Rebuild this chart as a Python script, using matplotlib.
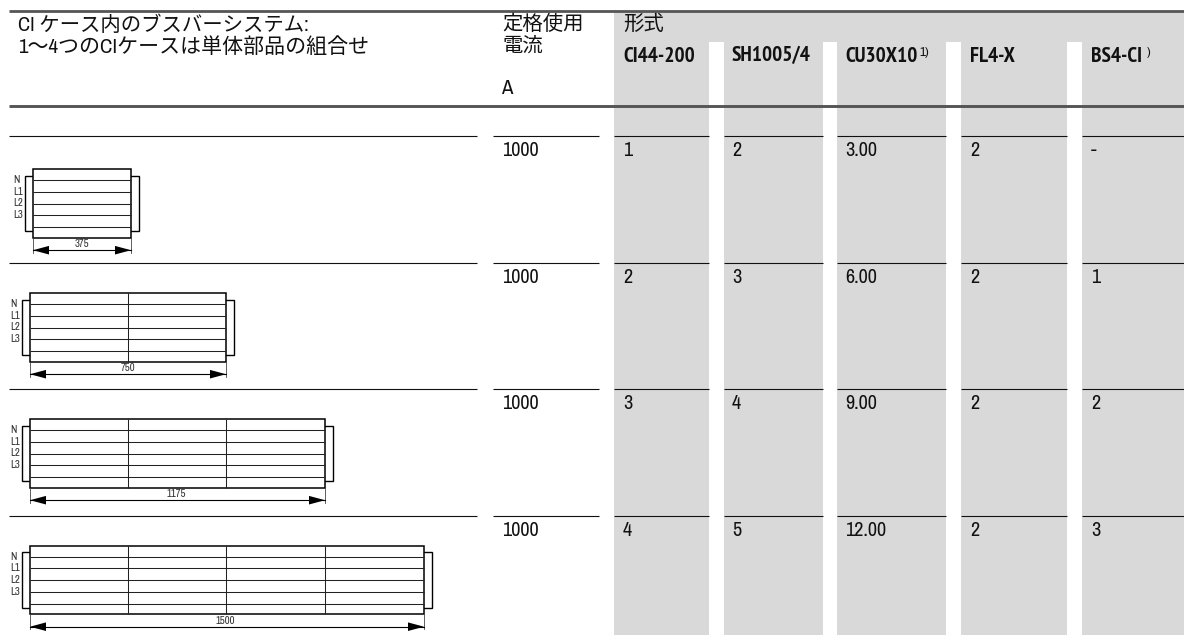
import matplotlib
matplotlib.use("Agg")
import matplotlib.pyplot as plt
from matplotlib.patches import Rectangle, Polygon

FONT = ['Archivo Narrow', 'Noto Sans CJK JP', 'DejaVu Sans']
FONT_BOLD = ['PT Sans Narrow', 'Noto Sans CJK JP', 'DejaVu Sans']

header_lines = ['CI ケース内のブスバーシステム:', '1〜4つのCIケースは単体部品の組合せ']
rating_header = ['定格使用', '電流']
rating_unit = 'A'
type_header = '形式'
types = ['CI44-200', 'SH1005/4', 'CU30X10', 'FL4-X', 'BS4-CI']
type_sups = ['', '', '1)', '', ')']
ratings = [1000, 1000, 1000, 1000]
table_rows = [
    ['1', '2', '3.00', '2', '-'],
    ['2', '3', '6.00', '2', '1'],
    ['3', '4', '9.00', '2', '2'],
    ['4', '5', '12.00', '2', '3'],
]
lengths = ['375', '750', '1175', '1500']
phases = ['N', 'L1', 'L2', 'L3']

GRAY = '#d9d9d9'
RULE = '#555555'
col_l = [614, 724, 837, 961, 1082]
col_r = [709, 823, 946, 1067, 1184]
col_tx = [623, 732, 845, 970, 1091]
sup_x = [None, None, 919, None, 1147]
row_line = [136, 263, 389, 516]

fig = plt.figure(figsize=(11.84, 6.35), dpi=100)
ax = fig.add_axes([0, 0, 1, 1])
ax.set_xlim(0, 1184)
ax.set_ylim(635, 0)
ax.axis('off')

def T(x, y, s, size=14.5, weight='normal', ha='left', color='#111111', family=FONT):
    ax.text(x, y, s, fontsize=size, fontweight=weight, ha=ha, va='center',
            family=family, color=color, zorder=6)

# grey columns
ax.add_patch(Rectangle((col_l[0], 12), 1184 - col_l[0], 30, fc=GRAY, ec='none', zorder=0))
for l, r in zip(col_l, col_r):
    ax.add_patch(Rectangle((l, 42), r - l, 593, fc=GRAY, ec='none', zorder=0))

# heavy rules
ax.plot([9, 1184], [11.3, 11.3], color=RULE, lw=2.0, solid_capstyle='butt')
ax.plot([9, 1184], [105.5, 105.5], color=RULE, lw=2.1, solid_capstyle='butt')

# row rules
for y in row_line:
    ax.plot([9, 477], [y, y], color='#111111', lw=0.8, solid_capstyle='butt')
    ax.plot([493, 599], [y, y], color='#111111', lw=0.8, solid_capstyle='butt')
    for l, r in zip(col_l, col_r):
        ax.plot([l, r], [y, y], color='#111111', lw=0.8, solid_capstyle='butt')

# header text
T(18, 25, header_lines[0], 14.7)
T(18, 47, header_lines[1], 15.1)
T(502, 24.5, rating_header[0], 14.7)
T(502, 46.5, rating_header[1], 14.7)
T(501, 89, rating_unit, 15)
T(623, 24.5, type_header, 14.7)
for x, s, sup, sx in zip(col_tx, types, type_sups, sup_x):
    T(x, 56, s, 15.3, 'bold', family=FONT_BOLD)
    if sup:
        T(sx, 53, sup, 9.5, 'normal')

# body values
for y, rating, row in zip(row_line, ratings, table_rows):
    T(502, y + 14.3, str(rating))
    for x, v in zip(col_tx, row):
        T(x, y + 14.3, v)

# busbar diagrams
boxes = [
    (33, 131, [], 169),
    (30, 226, [128], 293),
    (30, 325, [128, 225.5], 419),
    (30, 424, [128, 225.5, 324.5], 545.5),
]
label_offset = [0, 0, -1.5, -2]
for (x0, x1, divs, top), label, off in zip(boxes, lengths, label_offset):
    h = 68.5
    bot = top + h
    ax.plot([x0, x0 - 8, x0 - 8, x0], [top + 6.5, top + 6.5, bot - 6.5, bot - 6.5],
            color='black', lw=1.0, solid_joinstyle='miter')
    ax.plot([x1, x1 + 7.5, x1 + 7.5, x1], [top + 6.5, top + 6.5, bot - 6.5, bot - 6.5],
            color='black', lw=1.0, solid_joinstyle='miter')
    ax.add_patch(Rectangle((x0, top), x1 - x0, h, fc='white', ec='black', lw=1.1, zorder=2))
    for k in range(1, 6):
        y = top + 11 + (k - 1) * 11.8
        ax.plot([x0, x1], [y, y], color='#222222', lw=0.75, zorder=3, solid_capstyle='butt')
    for d in divs:
        ax.plot([d, d], [top, bot], color='#222222', lw=0.75, zorder=3, solid_capstyle='butt')
    for k, p in enumerate(phases):
        ax.text(x0 - 20, top + 11 + k * 11.7, p, fontsize=7.8,
                ha='left', va='center', family=FONT, color='#333333')
    dy = bot + 12.7
    ax.plot([x0, x0], [bot, dy + 2.5], color='#444444', lw=0.6, zorder=3)
    ax.plot([x1, x1], [bot, dy + 2.5], color='#444444', lw=0.6, zorder=3)
    ax.plot([x0, x1], [dy, dy], color='black', lw=0.8, zorder=3)
    ax.add_patch(Polygon([(x0, dy), (x0 + 16, dy - 4.3), (x0 + 16, dy + 4.3)], fc='black', ec='none', zorder=4))
    ax.add_patch(Polygon([(x1, dy), (x1 - 16, dy - 4.3), (x1 - 16, dy + 4.3)], fc='black', ec='none', zorder=4))
    ax.text((x0 + x1) / 2 + off, dy - 6, label, fontsize=7.8, ha='center',
            va='center', family=FONT, color='#333333', zorder=5)

fig.savefig('out.png', dpi=100)
